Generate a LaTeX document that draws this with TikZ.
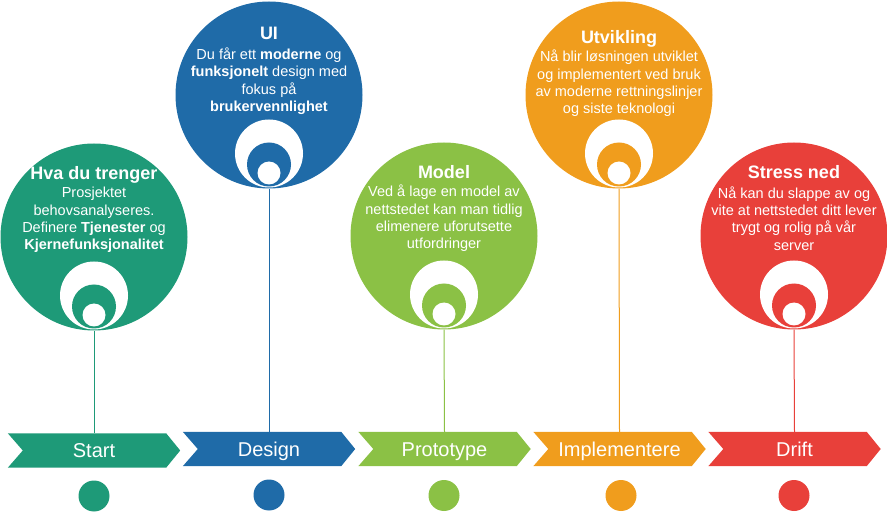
\documentclass[tikz,border=0pt]{standalone}
\usepackage{fontspec}
\setmainfont{Liberation Sans}
\usetikzlibrary{backgrounds}
\definecolor{cgreen}{HTML}{1E9A78}
\definecolor{cblue}{HTML}{1F6BA8}
\definecolor{clime}{HTML}{8BC145}
\definecolor{corange}{HTML}{F09D1D}
\definecolor{cred}{HTML}{E8403A}
\begin{document}
\begin{tikzpicture}[x=1pt,y=-1pt,
  bigdisc/.style={circle, minimum size=187pt, inner sep=0pt, fill=#1},
  disc/.style={circle, inner sep=0pt, fill=#1},
  ttl/.style={text=white, inner sep=0pt, text height=13pt, text depth=0pt, font=\bfseries\fontsize{18}{21}\selectfont},
  body/.style={text=white, inner sep=0pt, align=center, font=\fontsize{14.5}{17.4}\selectfont},
  chev/.style={minimum width=172pt, minimum height=34pt, inner sep=0pt, text height=14.4pt, text depth=0pt, text=white, font=\fontsize{20}{24}\selectfont},
  conn/.style={draw=#1, line width=1pt},
  dotdisc/.style={circle, inner sep=0pt, minimum size=31pt, fill=#1}]
\useasboundingbox (0,0) rectangle (887,513);

% ---------- Stage 1 : Start ----------
\node[bigdisc=cgreen] (c1) at (94,237) {};
\node[disc=white, minimum size=68pt, anchor=south] (w1) at ([yshift=1pt]c1.south) {};
\node[disc=cgreen, minimum size=44pt, anchor=south] (m1) at ([yshift=2pt]c1.south) {};
\node[disc=white, minimum size=23pt, anchor=south] (s1) at ([yshift=4pt]c1.south) {};
\node[ttl] (t1) at (94,173) {Hva du trenger};
\node[body] (b1) at (94,220) {Prosjektet\\behovsanalyseres.\\Definere \textbf{Tjenester} og\\\textbf{Kjernefunksjonalitet}};
\node[chev] (k1) at (94,450.5) {Start};
\node[dotdisc=cgreen] (d1) at (94,496) {};

% ---------- Stage 2 : Design ----------
\node[bigdisc=cblue] (c2) at (269,95) {};
\node[disc=white, minimum size=68pt, anchor=south] (w2) at ([yshift=1pt]c2.south) {};
\node[disc=cblue, minimum size=44pt, anchor=south] (m2) at ([yshift=2pt]c2.south) {};
\node[disc=white, minimum size=23pt, anchor=south] (s2) at ([yshift=4pt]c2.south) {};
\node[ttl] (t2) at (269,33) {UI};
\node[body] (b2) at (269,81) {Du får ett \textbf{moderne} og\\\textbf{funksjonelt} design med\\fokus på\\\textbf{brukervennlighet}};
\node[chev] (k2) at (269,449) {Design};
\node[dotdisc=cblue] (d2) at (269,495) {};

% ---------- Stage 3 : Prototype ----------
\node[bigdisc=clime] (c3) at (444,236) {};
\node[disc=white, minimum size=68pt, anchor=south] (w3) at ([yshift=1pt]c3.south) {};
\node[disc=clime, minimum size=44pt, anchor=south] (m3) at ([yshift=2pt]c3.south) {};
\node[disc=white, minimum size=23pt, anchor=south] (s3) at ([yshift=4pt]c3.south) {};
\node[ttl] (t3) at (444,172) {Model};
\node[body] (b3) at (444,218.5) {Ved å lage en model av\\nettstedet kan man tidlig\\elimenere uforutsette\\utfordringer};
\node[chev] (k3) at (444.5,449) {Prototype};
\node[dotdisc=clime] (d3) at (444,495.5) {};

% ---------- Stage 4 : Implementere ----------
\node[bigdisc=corange] (c4) at (619,95) {};
\node[disc=white, minimum size=68pt, anchor=south] (w4) at ([yshift=1pt]c4.south) {};
\node[disc=corange, minimum size=44pt, anchor=south] (m4) at ([yshift=2pt]c4.south) {};
\node[disc=white, minimum size=23pt, anchor=south] (s4) at ([yshift=4pt]c4.south) {};
\node[ttl] (t4) at (619,37) {Utvikling};
\node[body] (b4) at (619,83.5) {Nå blir løsningen utviklet\\og implementert ved bruk\\av moderne rettningslinjer\\og siste teknologi};
\node[chev] (k4) at (619.5,449) {Implementere};
\node[dotdisc=corange] (d4) at (621,495.5) {};

% ---------- Stage 5 : Drift ----------
\node[bigdisc=cred] (c5) at (794,236) {};
\node[disc=white, minimum size=68pt, anchor=south] (w5) at ([yshift=1pt]c5.south) {};
\node[disc=cred, minimum size=44pt, anchor=south] (m5) at ([yshift=2pt]c5.south) {};
\node[disc=white, minimum size=23pt, anchor=south] (s5) at ([yshift=4pt]c5.south) {};
\node[ttl] (t5) at (794,172) {Stress ned};
\node[body] (b5) at (794,218.5) {Nå kan du slappe av og\\vite at nettstedet ditt lever\\trygt og rolig på vår\\server};
\node[chev] (k5) at (794.5,449) {Drift};
\node[dotdisc=cred] (d5) at (794,495.5) {};

% ---------- chevrons (behind labels) ----------
\begin{pgfonlayer}{background}
\foreach \k/\col in {k1/cgreen,k2/cblue,k3/clime,k4/corange,k5/cred}{
  \fill[\col] (\k.north west) -- ([xshift=-14pt]\k.north east) -- (\k.east)
    -- ([xshift=-14pt]\k.south east) -- (\k.south west) -- ([xshift=15pt]\k.west) -- cycle;
}
\end{pgfonlayer}

% ---------- connectors ----------
\draw[conn=cgreen] (c1.south) -- (k1.north);
\draw[conn=cblue] (c2.south) -- (k2.north);
\draw[conn=clime] (c3.south) -- (k3.north);
\draw[conn=corange] (c4.south) -- (k4.north);
\draw[conn=cred] (c5.south) -- (k5.north);
\end{tikzpicture}
\end{document}
